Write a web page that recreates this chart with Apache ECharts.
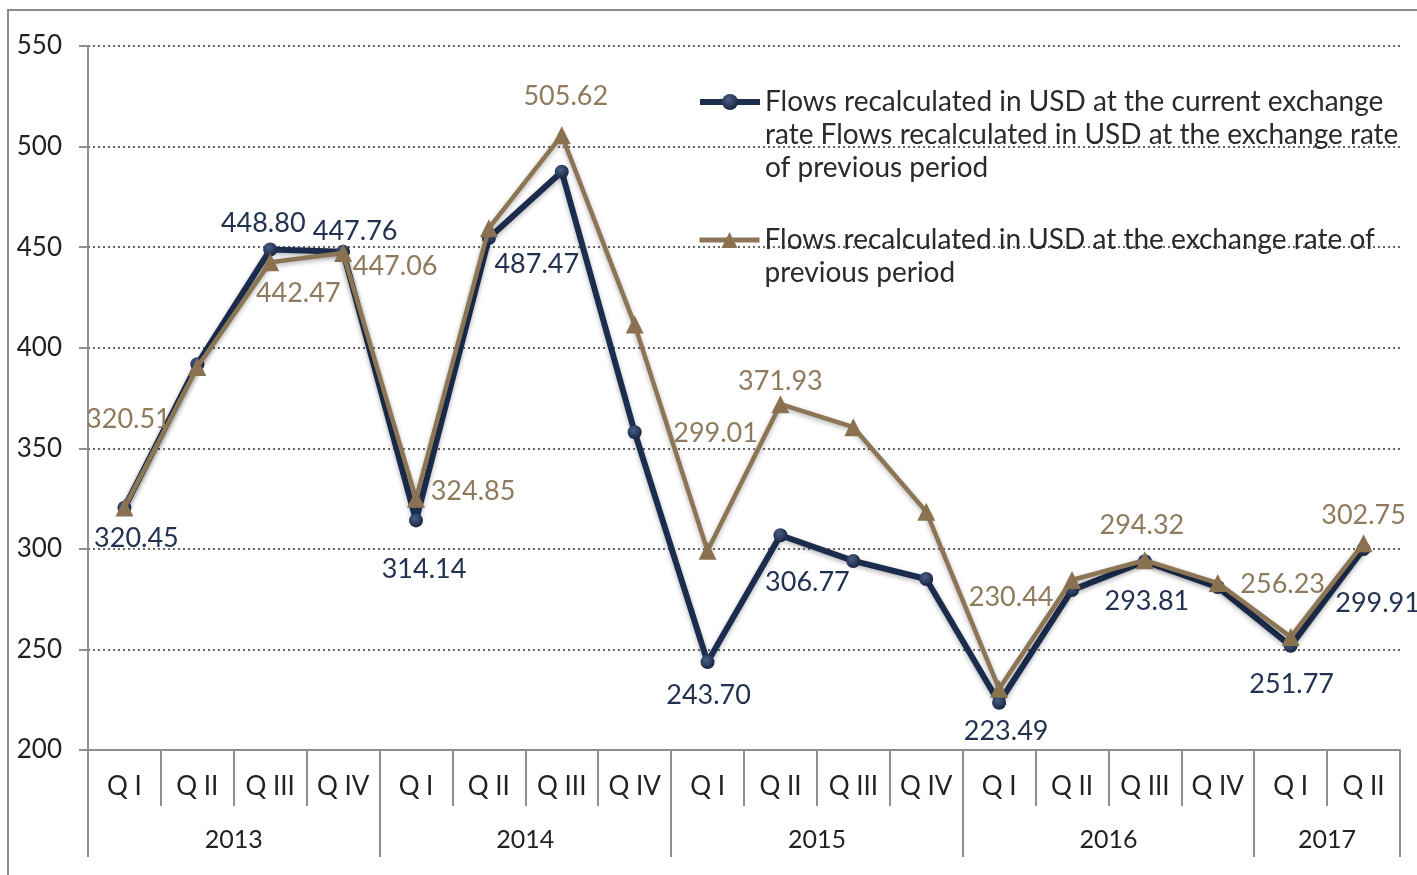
<!DOCTYPE html>
<html>
<head>
<meta charset="utf-8">
<script src="https://cdn.jsdelivr.net/npm/echarts@6/dist/echarts.min.js"></script>
<style>
html,body{margin:0;padding:0;background:#fff;}
#wrap{position:relative;width:1417px;height:875px;overflow:hidden;}
#chart{width:1417px;height:875px;}
#frame{position:absolute;left:7px;top:9px;width:1430px;height:900px;border-top:2px solid #8a8a8a;border-left:2px solid #8a8a8a;pointer-events:none;}
</style>
</head>
<body>
<div id="wrap"><div id="chart"></div><div id="frame"></div></div>
<script>
// ---- data ----
const quarters = ['Q I','Q II','Q III','Q IV','Q I','Q II','Q III','Q IV','Q I','Q II','Q III','Q IV','Q I','Q II','Q III','Q IV','Q I','Q II'];
const years = ['2013','2014','2015','2016','2017'];
const quartersPerYear = [4,4,4,4,2];
const seriesNames = [
  'Flows recalculated in USD at the current exchange rate Flows recalculated in USD at the exchange rate of previous period',
  'Flows recalculated in USD at the exchange rate of previous period'
];
const legendLines = [
  ['Flows recalculated in USD at the current exchange', 'rate Flows recalculated in USD at the exchange rate', 'of previous period'],
  ['Flows recalculated in USD at the exchange rate of', 'previous period']
];
const currentRate = [320.45, 391.8, 448.80, 447.76, 314.14, 454.5, 487.47, 358.0, 243.70, 306.77, 294.0, 285.0, 223.49, 279.5, 293.81, 281.0, 251.77, 299.91];
const previousRate = [320.51, 390.4, 442.47, 447.06, 324.85, 459.4, 505.62, 411.5, 299.01, 371.93, 360.5, 318.5, 230.44, 284.5, 294.32, 283.0, 256.23, 302.75];
// which points carry value labels
const currentLabeled = [1,0,1,1,1,0,1,0,1,1,0,0,1,0,1,0,1,1];
const previousLabeled = [1,0,1,1,1,0,1,0,1,1,0,0,1,0,1,0,1,1];
const yTicks = [200,250,300,350,400,450,500,550];

// ---- label placement (styling) ----
const currentOffsets = [[12,31],null,[-7,-26],[12,-20],[8,49],null,[-25,93],null,[1,33],[27,47],null,null,[7,29],null,[2,40],null,[1,38],[14,54]];
const previousOffsets = [[4,-88],null,[28,31],[52,13],[57,-8],null,[4,-39],null,[8,-118],[0,-23],null,null,[12,-91],null,[-3,-35],null,[-8,-53],[0,-28]];

const FONT = 'Lato';
const NAVY = '#1b2c4d';
const BROWN = '#8c7555';
const NAVY_TXT = '#223250';
const BROWN_TXT = '#8e7a5c';
const AXIS = '#8f8f8f';

// year boundaries / centers computed from quartersPerYear
const yearBounds = [0];
quartersPerYear.forEach(n => yearBounds.push(yearBounds[yearBounds.length-1] + n));
const yearCenters = years.map((y,i) => (yearBounds[i] + yearBounds[i+1]) / 2);

function makeData(vals, labeled, offsets, color) {
  return vals.map((v,i) => ({
    value: v,
    label: labeled[i] ? {
      show: true, position: 'inside', offset: offsets[i],
      color: color, fontFamily: FONT, fontSize: 27,
      formatter: () => v.toFixed(2)
    } : {show: false}
  }));
}

// leading blank lines keep the legend icon level with the first text line
function legendText(lines) {
  const pad = new Array(lines.length - 1).fill('').join('\n');
  return pad + '\n' + lines.join('\n');
}

const chart = echarts.init(document.getElementById('chart'));
const option = {
  animation: false,
  backgroundColor: '#fff',
  grid: {left: 88, right: 17, top: 46, bottom: 125, containLabel: false},
  legend: [
    {
      show: true, orient: 'vertical', left: 697, top: 102 - 2.5 * 33, padding: 0,
      itemWidth: 60, itemHeight: 20,
      data: [{name: seriesNames[0]}],
      lineStyle: {width: 6},
      formatter: () => legendText(legendLines[0]),
      textStyle: {fontFamily: FONT, fontSize: 28, color: '#2a2a2a', lineHeight: 33}
    },
    {
      show: true, orient: 'vertical', left: 697, top: 240 - 1.5 * 33, padding: 0,
      itemWidth: 60, itemHeight: 20,
      data: [{name: seriesNames[1]}],
      lineStyle: {width: 5},
      formatter: () => legendText(legendLines[1]),
      textStyle: {fontFamily: FONT, fontSize: 28, color: '#2a2a2a', lineHeight: 33}
    }
  ],
  xAxis: [
    {
      type: 'category', data: quarters, boundaryGap: true, position: 'bottom',
      axisLine: {show: true, lineStyle: {color: AXIS, width: 2}},
      axisTick: {show: true, interval: 0, length: 56, lineStyle: {color: AXIS, width: 2}},
      axisLabel: {interval: 0, margin: 24, fontFamily: FONT, fontSize: 26, color: '#222'},
      splitLine: {show: false}
    },
    {
      type: 'value', min: 0, max: quarters.length, position: 'bottom',
      axisLine: {show: false},
      axisTick: {show: true, customValues: yearBounds, length: 107, lineStyle: {color: AXIS, width: 2}},
      axisLabel: {show: true, customValues: yearCenters, margin: 77, fontFamily: FONT, fontSize: 25, color: '#222',
        formatter: (val) => { const i = yearCenters.indexOf(val); return i >= 0 ? years[i] : ''; }},
      splitLine: {show: false}
    }
  ],
  yAxis: {
    type: 'value', min: 200, max: 550, interval: 50,
    axisLine: {show: true, lineStyle: {color: AXIS, width: 2}},
    axisTick: {show: true, length: 9, lineStyle: {color: AXIS, width: 2}},
    axisLabel: {margin: 26, fontFamily: FONT, fontSize: 26, color: '#222',
      formatter: (v) => yTicks.indexOf(v) >= 0 ? String(v) : ''},
    splitLine: {show: true, lineStyle: {color: '#666', type: [2,3], width: 2}}
  },
  series: [
    {
      name: seriesNames[0], type: 'line', xAxisIndex: 0,
      data: makeData(currentRate, currentLabeled, currentOffsets, NAVY_TXT),
      symbol: 'circle', symbolSize: 14,
      lineStyle: {color: NAVY, width: 6, shadowColor: 'rgba(0,0,0,0.3)', shadowBlur: 5, shadowOffsetY: 2},
      itemStyle: {color: {type: 'radial', x: 0.4, y: 0.35, r: 0.7, colorStops: [{offset: 0, color: '#4a5f86'}, {offset: 1, color: '#14223d'}]}, borderWidth: 0},
      z: 2
    },
    {
      name: seriesNames[1], type: 'line', xAxisIndex: 0,
      data: makeData(previousRate, previousLabeled, previousOffsets, BROWN_TXT),
      symbol: 'triangle', symbolSize: 18,
      lineStyle: {color: BROWN, width: 4.5, shadowColor: 'rgba(0,0,0,0.3)', shadowBlur: 5, shadowOffsetY: 2},
      itemStyle: {color: '#8a7250', borderWidth: 0},
      z: 3
    }
  ]
};
chart.setOption(option);
</script>
</body>
</html>
